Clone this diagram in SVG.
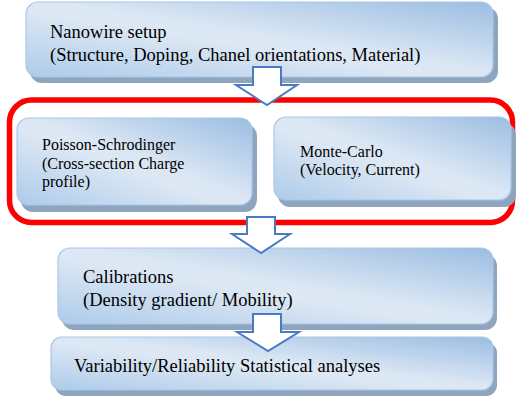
<svg xmlns="http://www.w3.org/2000/svg" width="517" height="402" viewBox="0 0 517 402">
<defs>
<linearGradient id="g" x1="1" y1="0" x2="0" y2="1">
<stop offset="0" stop-color="#9bbde2"/>
<stop offset="0.47" stop-color="#dbe7f4"/>
<stop offset="0.55" stop-color="#dde8f4"/>
<stop offset="1" stop-color="#adcbea"/>
</linearGradient>
<style>
.sh{fill:#8fa5be}
.bx{fill:url(#g);stroke:#a8c7e8;stroke-width:1.2}
.big{font-size:18.5px}
.sm{font-size:16px}
.ar{fill:#fff;stroke:#4a79c6;stroke-width:2;stroke-linejoin:miter}
.red{fill:none;stroke:#ff0000;stroke-width:5.5}
</style>
</defs>
<rect width="517" height="402" fill="#fff"/>

<g font-family="Liberation Serif, Times New Roman, serif" fill="#000">
<g id="n1">
<rect class="sh" x="30" y="7" width="468" height="76" rx="12"/>
<rect class="bx" x="26" y="2" width="467" height="75" rx="12"/>
<text class="big" x="50" y="37.5">Nanowire setup</text>
<text class="big" x="50" y="60.5">(Structure, Doping, Chanel orientations, Material)</text>
</g>

<g id="group">
<rect class="red" x="9.5" y="100" width="503" height="122.5" rx="22"/>
</g>

<g id="n2">
<rect class="sh" x="21" y="124" width="236" height="88" rx="12"/>
<rect class="bx" x="17" y="118" width="235" height="87" rx="12"/>
<text class="sm" x="42" y="150">Poisson-Schrodinger</text>
<text class="sm" x="42" y="168.5">(Cross-section Charge</text>
<text class="sm" x="42" y="187">profile)</text>
</g>

<g id="n3">
<rect class="sh" x="278" y="123" width="238" height="84" rx="12"/>
<rect class="bx" x="274" y="117" width="237" height="83" rx="12"/>
<text class="sm" x="300" y="157">Monte-Carlo</text>
<text class="sm" x="300" y="175">(Velocity, Current)</text>
</g>

<g id="n4">
<rect class="sh" x="62" y="254" width="435" height="76" rx="12"/>
<rect class="bx" x="58" y="248" width="435" height="76" rx="12"/>
<text class="big" x="83" y="283">Calibrations</text>
<text class="big" x="83" y="305.5">(Density gradient/ Mobility)</text>
</g>

<g id="n5">
<rect class="sh" x="55" y="342" width="442" height="54" rx="11"/>
<rect class="bx" x="51" y="337" width="442" height="53" rx="11"/>
<text class="big" x="74" y="372">Variability/Reliability Statistical analyses</text>
</g>
</g>

<g id="connectors">
<polygon class="ar" points="253,67 281,67 281,85 297,85 267,105 236,85 253,85"/>
<polygon class="ar" points="247,217 275,217 275,234 290,234 261,253 232,234 247,234"/>
<polygon class="ar" points="253,314 281,314 281,332 299,332 268,351 237,332 253,332"/>
</g>
</svg>
